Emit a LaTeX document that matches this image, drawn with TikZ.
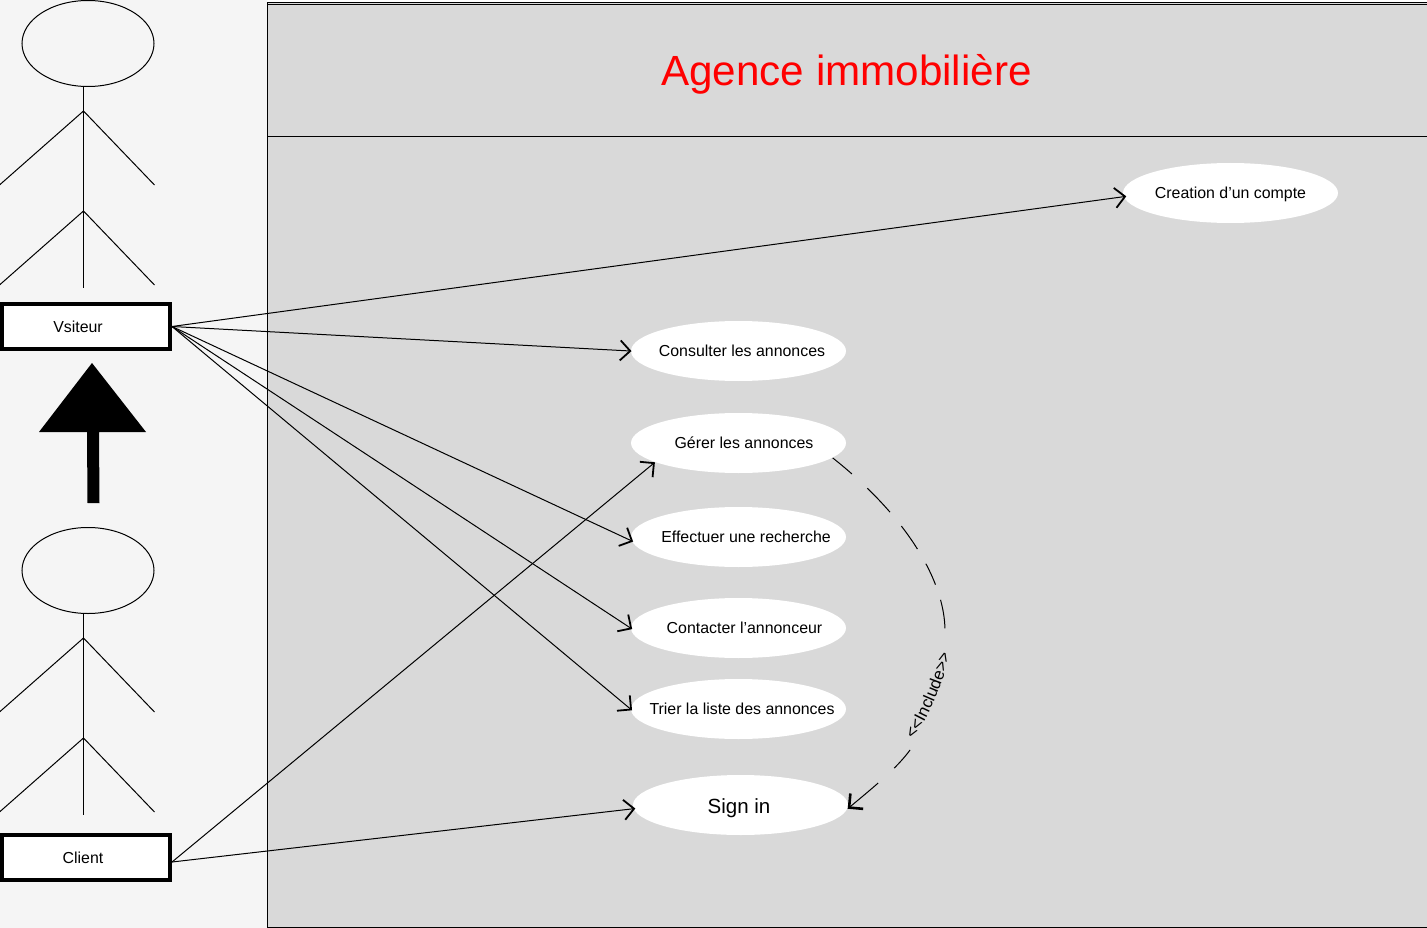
\documentclass[tikz,border=0pt]{standalone}
\usepackage{fontspec}
\setmainfont{Liberation Sans}
\usetikzlibrary{arrows.meta,decorations.text,shapes.geometric}

\begin{document}
\begin{tikzpicture}[
        x=1pt,y=-1pt,
        line width=1pt,
        font=\fontsize{15.9}{18}\selectfont,
        >={Straight Barb[length=10pt,width=20pt,line width=1.8pt]},
        UseCase/.style={
            ellipse,
            fill=white,
            minimum width=215pt,
            minimum height=60pt,
            inner xsep=-40pt,
            inner ysep=0pt,
            text height=12pt,
            text depth=1pt
        },
        ActorBox/.style={
            draw,
            fill=white,
            line width=4pt,
            minimum width=168pt,
            minimum height=45pt,
            inner sep=0pt
        },
        ActorHead/.style={
            draw,
            ellipse,
            minimum width=132pt,
            minimum height=86pt,
            inner sep=0pt
        }
    ]
    \useasboundingbox (0,0) rectangle (1427,928);

    %backgrounds
    \fill[color={rgb,255:red,245;green,245;blue,245}] (0,0) rectangle (267,928);
    \draw[fill={rgb,255:red,217;green,217;blue,217}] (267.5,2.5) rectangle (1427,927.5);
    \draw (267.5,4.5)--(1427,4.5);
    \draw (267.5,136.5)--(1427,136.5);
    \node[text=red,font=\fontsize{42.2}{48}\selectfont] (Title) at (846.5,74.5) {Agence immobilière};

    %first actor
    \node[ActorHead] (HeadV) at (88,43.5) {};
    \draw (83.5,86)coordinate (NeckV)--++(0,25)coordinate (ArmsV)--++(0,100)coordinate (HipV)--++(0,77);
    \draw (ArmsV)--++(-84,74);
    \draw (ArmsV)--++(71,74);
    \draw (HipV)--++(-84,74);
    \draw (HipV)--++(71,74);
    \node[ActorBox] (Vsiteur) at (86,326.5) {\hspace{-16pt}Vsiteur};

    %second actor
    \node[ActorHead] (HeadC) at (88,570.5) {};
    \draw (83.5,613)coordinate (NeckC)--++(0,25)coordinate (ArmsC)--++(0,100)coordinate (HipC)--++(0,77);
    \draw (ArmsC)--++(-84,74);
    \draw (ArmsC)--++(71,74);
    \draw (HipC)--++(-84,74);
    \draw (HipC)--++(71,74);
    \node[ActorBox] (Client) at (86,857.5) {\hspace{-6pt}Client};

    %inheritance arrow
    \fill (92,363)--(146,432)--(99,432)--(99.5,503)--(87.5,503)--(87,432)--(39,432)--cycle;

    %use cases
    \node[UseCase] (Creation) at (1230.5,193) {Creation d’un compte};
    \node[UseCase] (Consulter) at (738.5,351) {\hspace{7pt}Consulter les annonces};
    \node[UseCase] (Gerer) at (738.5,443) {\hspace{11pt}Gérer les annonces};
    \node[UseCase] (Effectuer) at (738.5,537) {\hspace{15pt}Effectuer une recherche};
    \node[UseCase] (Contacter) at (738.5,628) {\hspace{12pt}Contacter l’annonceur};
    \node[UseCase] (Trier) at (738.5,709) {\hspace{7pt}Trier la liste des annonces};
    \node[UseCase,font=\fontsize{20.5}{24}\selectfont,text height=16pt,text depth=0pt] (SignIn) at (740.5,805) {\hspace{-3pt}Sign in};

    %connections
    \draw[->,shorten >=-3pt] (Vsiteur.east)--(Creation.182);
    \draw[->,shorten >=-1pt] (Vsiteur.east)--(Consulter.west);
    \draw[->,shorten >=-2pt] (Vsiteur.east)--(Effectuer.182);
    \draw[->,shorten >=-2pt] (Vsiteur.east)--(Contacter.west);
    \draw[->,shorten >=-2pt] (Vsiteur.east)--(Trier.west);
    \draw[->] (Client.-3)--(Gerer.193);
    \draw[->,shorten >=-2pt] (Client.-3)--(SignIn.182);

    %include relation
    \draw[dash pattern=on 25pt off 21pt on 33pt off 18pt on 28pt off 17pt on 23pt off 16pt on 29pt off 100pt]
        (Gerer.-9) .. controls (905,515) and (945,580) .. (945,631)coordinate (IncA);
    \draw[->,dash pattern=on 24pt off 22pt on 60pt off 0pt,>={Straight Barb[length=10pt,width=20pt,line width=2.6pt]}]
        (910,750)coordinate (IncB) .. controls (897,768) and (875,786) .. (SignIn.-2);
    \path[postaction={decorate},decoration={text along path,text align=center,
        text={|\fontsize{16.8}{18}\selectfont|<<Include>>}}]
        (913,742)coordinate (IncC) .. controls (929,715) and (943,685) .. (951,651)coordinate (IncD);
\end{tikzpicture}
\end{document}
